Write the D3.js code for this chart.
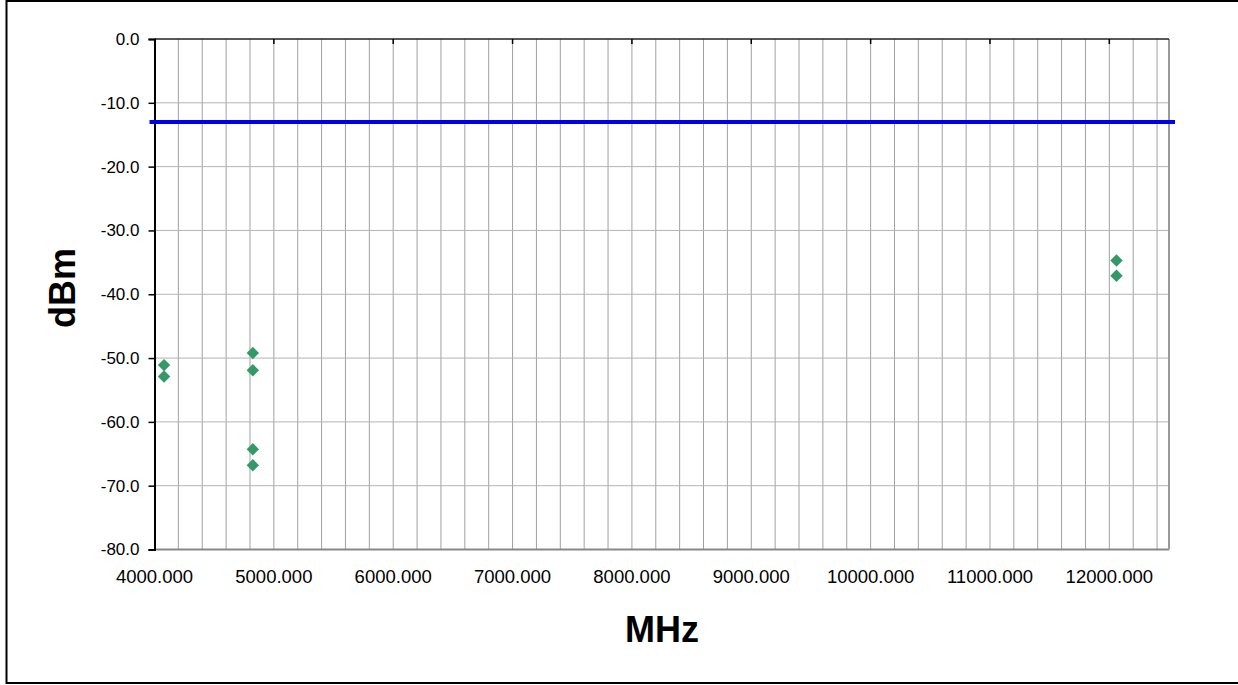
<!DOCTYPE html>
<html><head><meta charset="utf-8">
<script src="https://cdn.jsdelivr.net/npm/d3@7"></script>
<style>
html,body{margin:0;padding:0;background:#fff;}
text{font-family:Arial,"Liberation Sans",sans-serif;}
</style></head>
<body><svg id="c" width="1238" height="685"></svg>
<script>
// data
const freqMHz = [4080, 4080, 4824, 4824, 4824, 4824, 12060, 12060];
const levelDbm = [-51.1, -52.9, -49.2, -51.9, -64.3, -66.8, -34.7, -37.1];
const limitDbm = [-13];
const xTicks = [4000, 5000, 6000, 7000, 8000, 9000, 10000, 11000, 12000];
const yTicks = [0, -10, -20, -30, -40, -50, -60, -70, -80];
const xTitle = "MHz", yTitle = "dBm";

const svg = d3.select("#c");
const L = 154.5, R = 1169, T = 39, B = 549.5;
const x = d3.scaleLinear().domain([4000, 12500]).range([L, R]);
const y = d3.scaleLinear().domain([-80, 0]).range([B, T]);

// outer frame
svg.append("rect").attr("x", 6.5).attr("y", 1).attr("width", 1240).attr("height", 682)
  .attr("fill", "none").attr("stroke", "#000").attr("stroke-width", 2);

// gridlines
const g = svg.append("g");
g.selectAll("line.v").data(d3.range(4200, 12500, 200)).join("line")
  .attr("x1", d => x(d)).attr("x2", d => x(d)).attr("y1", T).attr("y2", B)
  .attr("stroke", "#a0a0a0").attr("stroke-width", 1);
g.selectAll("line.h").data(yTicks.filter(d => d > -80 && d < 0)).join("line")
  .attr("x1", L).attr("x2", R).attr("y1", d => y(d)).attr("y2", d => y(d))
  .attr("stroke", "#b4b4b4").attr("stroke-width", 1);

// plot borders
svg.append("line").attr("x1", L).attr("x2", R).attr("y1", B).attr("y2", B).attr("stroke", "#888").attr("stroke-width", 2);
svg.append("line").attr("x1", R).attr("x2", R).attr("y1", T).attr("y2", B).attr("stroke", "#999").attr("stroke-width", 2);
svg.append("line").attr("x1", L).attr("x2", R).attr("y1", T).attr("y2", T).attr("stroke", "#222").attr("stroke-width", 1.5);

// top ticks (x major)
svg.selectAll("line.xt").data(xTicks.filter(d => d > 4000)).join("line")
  .attr("x1", d => x(d)).attr("x2", d => x(d)).attr("y1", T).attr("y2", T + 5)
  .attr("stroke", "#000").attr("stroke-width", 1.5);

// y axis
const yAxis = d3.axisLeft(y).tickValues(yTicks).tickSize(6).tickPadding(9).tickFormat(d => d.toFixed(1));
const ya = svg.append("g").attr("transform", `translate(${L},0)`).call(yAxis);
ya.select(".domain").attr("stroke", "#000").attr("stroke-width", 2);
ya.selectAll(".tick line").attr("stroke", "#000").attr("stroke-width", 1.5);
ya.selectAll("text").attr("font-size", 17).attr("fill", "#000")
  .attr("font-family", "Arial, 'Liberation Sans', sans-serif");

// x labels
svg.selectAll("text.xl").data(xTicks).join("text")
  .attr("x", d => x(d)).attr("y", 583).attr("text-anchor", "middle")
  .attr("font-size", 18.5).attr("fill", "#000").text(d => d.toFixed(3));

// limit line
svg.selectAll("line.lim").data(limitDbm).join("line")
  .attr("x1", L - 5).attr("x2", R + 6).attr("y1", d => y(d)).attr("y2", d => y(d))
  .attr("stroke", "#0000ee").attr("stroke-width", 4);

// points
const pts = freqMHz.map((f, i) => ({f, v: levelDbm[i]}));
svg.selectAll("path.pt").data(pts).join("path")
  .attr("d", d3.symbol(d3.symbolDiamond2, 98))
  .attr("transform", d => `translate(${x(d.f)},${y(d.v)})`)
  .attr("fill", "#339966");

// titles
svg.append("text").attr("x", 662).attr("y", 642).attr("text-anchor", "middle")
  .attr("font-size", 36).attr("font-weight", "bold").text(xTitle);
svg.append("text").attr("transform", "translate(75,288) rotate(-90)").attr("text-anchor", "middle")
  .attr("font-size", 36).attr("font-weight", "bold").text(yTitle);
</script></body></html>
